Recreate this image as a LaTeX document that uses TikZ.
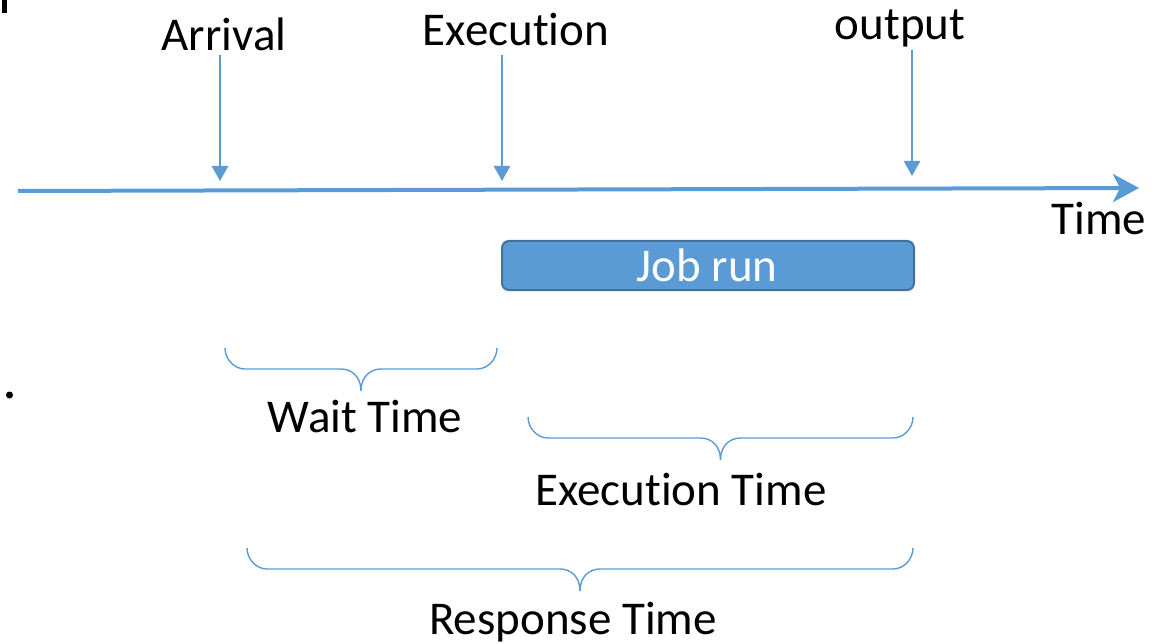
\documentclass[tikz,border=0pt]{standalone}
\usepackage{fontspec}
\setmainfont{Carlito}[Ligatures=NoCommon]
\usetikzlibrary{arrows.meta}
\definecolor{lblue}{HTML}{5B9BD5}
\definecolor{dblue}{HTML}{41719C}
\newcommand{\mybrace}[3]{% x1, x2, y top
  \draw[bracestyle] (#1,#3) .. controls (#1,#3+11) and (#1+9,#3+21) .. (#1+20,#3+21)
    -- ({(#1+#2)/2-20},#3+21) .. controls ({(#1+#2)/2-9},#3+21) and ({(#1+#2)/2},#3+29) .. ({(#1+#2)/2},#3+43)
    .. controls ({(#1+#2)/2},#3+29) and ({(#1+#2)/2+9},#3+21) .. ({(#1+#2)/2+20},#3+21)
    -- (#2-20,#3+21) .. controls (#2-9,#3+21) and (#2,#3+11) .. (#2,#3);}
\begin{document}
\begin{tikzpicture}[x=1pt,y=-1pt,
  lbl/.style={anchor=base,inner sep=0pt,font=\fontsize{47}{56}\selectfont},
  axis/.style={draw=lblue,line width=4pt,-{Stealth[length=26pt,width=28pt,inset=7pt]}},
  marker/.style={draw=lblue,line width=2.5pt,-{Triangle[length=15pt,width=16pt]}},
  bracestyle/.style={draw=lblue,line width=1.4pt},
  jobbox/.style={draw=dblue,fill=lblue,line width=2pt,rounded corners=7pt,minimum width=412pt,minimum height=49pt,inner sep=0pt}]
\useasboundingbox (0,0) rectangle (1169,644);
% stray marks
\fill[black] (2,0) rectangle (7,13);
\fill[black] (9.5,395) circle (3.5);
% labels
\node[lbl] (arrival) at (224,51) {Arrival};
\node[lbl] (execution) at (516,46) {Execution};
\node[lbl] (output) at (900,40) {output};
\node[lbl] (time) at (1099,235) {Time};
% axis
\coordinate (t0) at (18,191);
\coordinate (t1) at (1139,188);
\draw[axis] (t0) -- (t1);
% markers
\coordinate (a0) at (220,55); \coordinate (a1) at (220,181);
\coordinate (e0) at (502,55); \coordinate (e1) at (502,181);
\coordinate (o0) at (912,50); \coordinate (o1) at (912,176);
\draw[marker] (a0) -- (a1);
\draw[marker] (e0) -- (e1);
\draw[marker] (o0) -- (o1);
% job run box
\node[jobbox] (job) at (708,265.5) {};
\node[lbl,text=white] (jobtext) at (707,281) {Job run};
% braces
\mybrace{225}{497}{348}
\node[lbl] (wait) at (365,432) {Wait Time};
\mybrace{528}{913}{417}
\node[lbl] (exect) at (681,505) {Execution Time};
\mybrace{247}{913}{548}
\node[lbl] (resp) at (573,634) {Response Time};
\end{tikzpicture}
\end{document}
